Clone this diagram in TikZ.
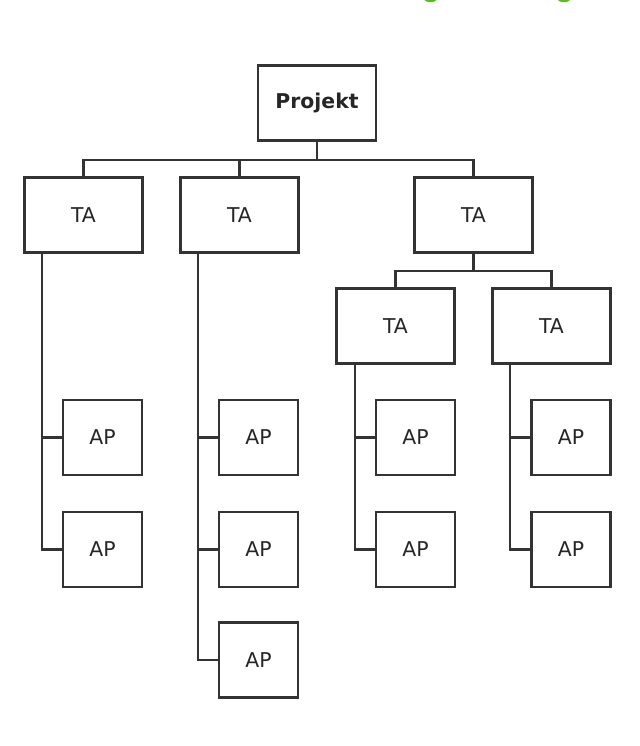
\documentclass[tikz,border=0pt]{standalone}
\usepackage{fontspec}
\setmainfont{DejaVu Sans}
\definecolor{boxline}{HTML}{333333}
\definecolor{titlegreen}{HTML}{5CB82A}
\begin{document}
\begin{tikzpicture}[x=0.025cm, y=-0.025cm,
		box/.style={draw=boxline, line width=1.7pt, fill=white, minimum width=2.95cm, minimum height=1.875cm, inner sep=0pt, font=\fontsize{14.5}{16}\selectfont, text=black!85},
		apbox/.style={box, minimum width=1.975cm},
		link/.style={draw=boxline, line width=1.6pt}]
		\useasboundingbox (0,0) rectangle (640,746);
		
		% Cut-off title at the top edge
		\fill[titlegreen] (430.5,0) ellipse [x radius=6, y radius=2];
		\fill[titlegreen] (564,0) ellipse [x radius=6, y radius=2];
		
		% Project and first level
		\node[box, font=\fontsize{14.5}{16}\selectfont\bfseries] (proj) at (317,103) {Projekt};
		\node[box] (ta1) at (83.5,215) {TA};
		\node[box] (ta2) at (239.5,215) {TA};
		\node[box] (ta3) at (473.5,215) {TA};
		
		% Second level below the third TA
		\node[box] (ta4) at (395.5,326) {TA};
		\node[box] (ta5) at (551.5,326) {TA};
		
		% Work packages
		\node[apbox] (ap11) at (102.5,437.5) {AP};
		\node[apbox] (ap12) at (102.5,549.5) {AP};
		\node[apbox] (ap21) at (258.5,437.5) {AP};
		\node[apbox] (ap22) at (258.5,549.5) {AP};
		\node[apbox] (ap23) at (258.5,660) {AP};
		\node[apbox] (ap41) at (415.5,437.5) {AP};
		\node[apbox] (ap42) at (415.5,549.5) {AP};
		\node[apbox] (ap51) at (571,437.5) {AP};
		\node[apbox] (ap52) at (571,549.5) {AP};
		
		% Tree lines
		\draw[link] (proj.south) -- ++(0,18.5) -| (ta1.north);
		\draw[link] (proj.south) -- ++(0,18.5) -| (ta2.north);
		\draw[link] (proj.south) -- ++(0,18.5) -| (ta3.north);
		\draw[link] (ta3.south) -- ++(0,17.5) -| (ta4.north);
		\draw[link] (ta3.south) -- ++(0,17.5) -| (ta5.north);
		
		% Side lines to the work packages
		\draw[link] (ta1.south west) ++(19,0) |- (ap11.west);
		\draw[link] (ta1.south west) ++(19,0) |- (ap12.west);
		\draw[link] (ta2.south west) ++(19,0) |- (ap21.west);
		\draw[link] (ta2.south west) ++(19,0) |- (ap22.west);
		\draw[link] (ta2.south west) ++(19,0) |- (ap23.west);
		\draw[link] (ta4.south west) ++(20,0) |- (ap41.west);
		\draw[link] (ta4.south west) ++(20,0) |- (ap42.west);
		\draw[link] (ta5.south west) ++(19,0) |- (ap51.west);
		\draw[link] (ta5.south west) ++(19,0) |- (ap52.west);
		
	\end{tikzpicture}
\end{document}
